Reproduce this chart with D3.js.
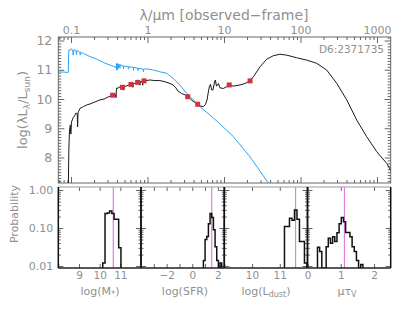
<!DOCTYPE html>
<html><head><meta charset="utf-8">
<script src="https://cdn.jsdelivr.net/npm/d3@7"></script>
<style>
body{margin:0;background:#fff}
text{font-family:"DejaVu Sans",sans-serif;fill:#909090}
</style>
</head><body>
<svg id="c" width="415" height="312"></svg>
<script>
// ---------- DATA ----------
// attenuated model SED (black): wavelength (µm, observed) and log(λLλ/Lsun)
const waveBlack = [0.0922,0.0936,0.0956,0.098,0.0995,0.1015,0.106,0.111,0.116,0.1205,0.122,0.1235,0.125,0.131,0.145,0.162,0.177,0.206,0.239,0.271,0.305,0.351,0.381,0.388,0.392,0.396,0.41,0.424,0.471,0.478,0.481,0.484,0.52,0.608,0.64,0.644,0.648,0.744,0.79,0.795,0.8,0.86,0.865,0.87,0.90,1.07,1.25,1.45,1.69,1.97,2.16,2.35,2.50,2.78,3.1,3.35,3.82,4.53,4.93,5.36,5.72,6.0,6.24,6.46,6.66,6.91,7.18,7.51,7.70,7.98,8.22,8.47,8.87,9.8,10.8,11.7,13.2,16.2,18.8,21.9,24.2,29.6,36.1,44.1,53.9,66.0,89.2,120.5,163,220,297,402,543,733,991,1340,1600];
const logLBlack = [6.9,8.26,8.94,9.11,8.8,9.21,9.35,9.42,9.52,9.5,9.05,9.52,9.56,9.68,9.74,9.80,9.83,9.90,9.97,10.0,10.07,10.13,10.15,10.05,10.3,10.38,10.36,10.41,10.41,10.42,10.3,10.42,10.44,10.50,10.51,10.4,10.52,10.57,10.58,10.47,10.59,10.6,10.47,10.61,10.62,10.65,10.63,10.63,10.59,10.53,10.48,10.38,10.27,10.19,10.14,10.08,9.95,9.82,9.76,9.74,9.81,9.97,10.24,10.44,10.50,10.31,10.31,10.58,10.65,10.44,10.48,10.53,10.38,10.36,10.42,10.48,10.44,10.48,10.53,10.62,10.76,11.10,11.36,11.48,11.53,11.50,11.41,11.33,11.22,10.99,10.54,9.97,9.28,8.71,8.20,7.80,7.45];
// unattenuated stellar SED (blue)
const waveBlue = [0.0683,0.08,0.0922,0.0928,0.0936,0.097,0.1,0.102,0.105,0.107,0.109,0.113,0.116,0.118,0.12,0.124,0.13,0.132,0.134,0.145,0.177,0.217,0.264,0.323,0.376,0.387,0.396,0.398,0.40,0.404,0.407,0.41,0.415,0.418,0.434,0.436,0.439,0.482,0.486,0.49,0.56,0.563,0.567,0.653,0.656,0.66,0.75,0.755,0.76,0.88,0.885,0.89,0.98,1.19,1.45,1.78,2.16,2.64,3.27,3.96,4.85,8.03,13.2,21.9,37.9,46.5];
const logLBlue = [10.93,10.92,10.91,11.3,11.68,11.66,11.72,11.70,11.68,11.50,11.68,11.68,11.66,11.52,11.65,11.65,11.60,11.5,11.6,11.56,11.45,11.36,11.25,11.16,11.10,11.06,11.22,10.98,11.2,11.0,11.2,11.20,11.05,11.19,11.17,11.05,11.17,11.13,11.03,11.13,11.10,11.02,11.10,11.08,10.98,11.08,11.05,10.97,11.05,11.02,10.93,11.02,11.03,10.99,10.93,10.88,10.71,10.48,10.19,9.97,9.74,9.25,8.72,8.02,7.13,6.82];
// observed photometry (red squares)
const photWave = [0.351,0.471,0.608,0.744,0.90,3.35,4.53,11.7,21.9];
const photLogL = [10.13,10.40,10.50,10.57,10.62,10.08,9.82,10.48,10.62];
const objectId = "D6:2371735";
const topTickValues = [0.1,1,10,100,1000];
const topTickLabels = ["0.1","1","10","100","1000"];
const yTickValues = [8,9,10,11,12];

// likelihood distributions
const massStart = 10.15, massWidth = 0.11;
const massProb = [0.012,0.24,0.25,0.28,0.24,0.17,0.17,0.03];
const massBest = 10.66;
const sfrStart = 0.87, sfrWidth = 0.13;
const sfrProb = [0.014,0.05,0.06,0.13,0.24,0.19,0.09,0.032,0.014,0.0,0.012];
const sfrBest = 1.52;
const ldStart = 11.17, ldWidth = 0.09;
const ldProb = [0.11,0.11,0.18,0.16,0.30,0.17,0.044,0.044,0.012];
const ldBest = 11.57;
const tauStart = 0.30, tauWidth = 0.065;
const tauProb = [0.031,0.024,0,0,0.032,0.054,0.04,0.059,0.044,0.075,0.13,0.19,0.147,0.076,0.076,0.059,0.032,0.024,0.014,0,0.011];
const tauBest = 1.11;
const probTickValues = [1,0.1,0.01];
const probTickLabels = ["1.00","0.10","0.01"];

// ---------- CHART ----------
const svg = d3.select("#c");
const L = 58.3, R = 390.7, T = 37, B = 183;
const x = d3.scaleLog().domain([0.0682,1510]).range([L,R]);
const y = d3.scaleLinear().domain([7.128,12.12]).range([B,T]);
const axisCol = "#666";

svg.append("defs").append("clipPath").attr("id","mainclip")
  .append("rect").attr("x",L).attr("y",T).attr("width",R-L).attr("height",B-T);

const minorX = [];
for (let n=-2;n<=3;n++) for (let k=2;k<=9;k++){const v=k*Math.pow(10,n); if(v>0.0682&&v<1510) minorX.push(v);}
const minorY = d3.range(71,122).map(d=>d/10).filter(v=>v>7.13&&v<12.12&&Math.abs(v-Math.round(v))>1e-6);

function styleAxis(g){g.select(".domain").remove(); g.selectAll("line").attr("stroke",axisCol);
  g.selectAll("text").attr("fill","#909090").style("font-family","DejaVu Sans").style("font-size","11px");}

svg.append("g").attr("transform",`translate(0,${B})`).call(d3.axisBottom(x).tickValues(topTickValues.filter(v=>v<1510)).tickSize(-6).tickFormat("")).call(styleAxis);
svg.append("g").attr("transform",`translate(0,${B})`).call(d3.axisBottom(x).tickValues(minorX).tickSize(-3).tickFormat("")).call(styleAxis);
svg.append("g").attr("transform",`translate(0,${T})`).call(d3.axisTop(x).tickValues(topTickValues).tickSize(-6).tickPadding(3).tickFormat((d,i)=>topTickLabels[i])).call(styleAxis);
svg.append("g").attr("transform",`translate(0,${T})`).call(d3.axisTop(x).tickValues(minorX).tickSize(-3).tickFormat("")).call(styleAxis);
svg.append("g").attr("transform",`translate(${L},0)`).call(d3.axisLeft(y).tickValues(yTickValues).tickSize(-6).tickPadding(6).tickFormat(d3.format("d"))).call(styleAxis)
  .selectAll("text").style("font-size","12.5px");
svg.append("g").attr("transform",`translate(${L},0)`).call(d3.axisLeft(y).tickValues(minorY).tickSize(-3).tickFormat("")).call(styleAxis);
svg.append("g").attr("transform",`translate(${R},0)`).call(d3.axisRight(y).tickValues(yTickValues).tickSize(-6).tickFormat("")).call(styleAxis);
svg.append("g").attr("transform",`translate(${R},0)`).call(d3.axisRight(y).tickValues(minorY).tickSize(-3).tickFormat("")).call(styleAxis);
svg.append("rect").attr("x",L).attr("y",T).attr("width",R-L).attr("height",B-T).attr("fill","none").attr("stroke",axisCol).attr("stroke-width",1);

const line = d3.line().x(d=>x(d[0])).y(d=>y(d[1]));
const curves = svg.append("g").attr("clip-path","url(#mainclip)");
curves.append("path").attr("d",line(waveBlue.map((w,i)=>[w,logLBlue[i]]))).attr("fill","none").attr("stroke","#2ea3f2").attr("stroke-width",1);
curves.append("path").attr("d",line(waveBlack.map((w,i)=>[w,logLBlack[i]]))).attr("fill","none").attr("stroke","#1a1a1a").attr("stroke-width",1);
curves.selectAll("rect.pt").data(photWave.map((w,i)=>[w,photLogL[i]])).enter().append("rect")
  .attr("x",d=>x(d[0])-2.5).attr("y",d=>y(d[1])-2.5).attr("width",5).attr("height",5).attr("fill","#d0323f");

svg.append("text").attr("x",384).attr("y",53).attr("text-anchor","end").style("font-size","10.5px").attr("fill","#777").text(objectId);

svg.append("text").attr("x",224).attr("y",20).attr("text-anchor","middle").style("font-size","14px").text("λ/μm [observed−frame]");
const yl = svg.append("text").attr("transform","translate(27,110) rotate(-90)").attr("text-anchor","middle").style("font-size","13px");
yl.append("tspan").text("log(λL");
yl.append("tspan").attr("dy",3).style("font-size","9px").text("λ");
yl.append("tspan").attr("dy",-3).text("/L");
yl.append("tspan").attr("dy",3).style("font-size","9px").text("sun");
yl.append("tspan").attr("dy",-3).text(")");

// ---------- lower panels ----------
const PT = 187, PB = 268;
const yp = d3.scaleLog().domain([0.00886,1.2]).range([PB,PT]);
const minorP = [];
for (let n=-2;n<=-1;n++) for (let k=2;k<=9;k++) minorP.push(k*Math.pow(10,n));

const panels = [
  {x0:58.3,x1:141,dom:[8,12],ticks:[8,9,10,11,12],labels:{9:"9",10:"10",11:"11"},start:massStart,width:massWidth,prob:massProb,best:massBest,title:[["log(M",0],["*",1],[")",0]],tx:100},
  {x0:141,x1:224.3,dom:[-4,2.5],ticks:[-4,-3,-2,-1,0,1,2],labels:{"-2":"−2","0":"0","2":"2"},start:sfrStart,width:sfrWidth,prob:sfrProb,best:sfrBest,title:[["log(SFR)",0]],tx:185},
  {x0:224.3,x1:307.5,dom:[9,12],ticks:[9,10,11,12],labels:{10:"10",11:"11"},start:ldStart,width:ldWidth,prob:ldProb,best:ldBest,title:[["log(L",0],["dust",1],[")",0]],tx:266},
  {x0:307.5,x1:390.7,dom:[0,2.5],ticks:[0,1,2],labels:{0:"0",1:"1",2:"2"},start:tauStart,width:tauWidth,prob:tauProb,best:tauBest,title:[["μτ",0],["V",1]],tx:347}
];

panels.forEach((p,pi)=>{
  const xs = d3.scaleLinear().domain(p.dom).range([p.x0,p.x1]);
  const id = "pc"+pi;
  svg.select("defs").append("clipPath").attr("id",id).append("rect").attr("x",p.x0).attr("y",PT).attr("width",p.x1-p.x0).attr("height",PB-PT);
  const g = svg.append("g");
  g.append("g").attr("transform",`translate(0,${PB})`).call(d3.axisBottom(xs).tickValues(p.ticks).tickSize(-4).tickPadding(4)
      .tickFormat(d=>p.labels[d]!==undefined?p.labels[d]:"")).call(styleAxis)
      .selectAll("text").style("font-size","10.5px");
  g.append("g").attr("transform",`translate(0,${PT})`).call(d3.axisTop(xs).tickValues(p.ticks).tickSize(-4).tickFormat("")).call(styleAxis);
  g.append("g").attr("transform",`translate(${p.x0},0)`).call(d3.axisLeft(yp).tickValues(probTickValues).tickSize(-5).tickPadding(5)
      .tickFormat((d,i)=>pi===0?probTickLabels[i]:"")).call(styleAxis);
  g.append("g").attr("transform",`translate(${p.x0},0)`).call(d3.axisLeft(yp).tickValues(minorP).tickSize(-2.5).tickFormat("")).call(styleAxis);
  g.append("g").attr("transform",`translate(${p.x1},0)`).call(d3.axisRight(yp).tickValues(probTickValues).tickSize(-5).tickFormat("")).call(styleAxis);
  g.append("g").attr("transform",`translate(${p.x1},0)`).call(d3.axisRight(yp).tickValues(minorP).tickSize(-2.5).tickFormat("")).call(styleAxis);
  g.append("line").attr("x1",xs(p.best)).attr("x2",xs(p.best)).attr("y1",PT).attr("y2",PB).attr("stroke","#e07fdc").attr("stroke-width",1.2);
  const pts = [[p.start,null]];
  p.prob.forEach((v,i)=>{pts.push([p.start+i*p.width,v]);pts.push([p.start+(i+1)*p.width,v]);});
  pts.push([p.start+p.prob.length*p.width,null]);
  const hl = d3.line().x(d=>xs(d[0])).y(d=>(d[1]===null||d[1]<=yp.domain()[0])?PB:yp(d[1]));
  g.append("path").attr("clip-path",`url(#${id})`).attr("d",hl(pts)).attr("fill","none").attr("stroke","#111").attr("stroke-width",1.5);
  g.append("line").attr("x1",p.x0).attr("x2",p.x1).attr("y1",PT).attr("y2",PT).attr("stroke","#999").attr("stroke-width",1);
  g.append("line").attr("x1",p.x0).attr("x2",p.x1).attr("y1",PB).attr("y2",PB).attr("stroke","#222").attr("stroke-width",1.3);
  g.append("line").attr("x1",p.x0).attr("x2",p.x0).attr("y1",PT).attr("y2",PB).attr("stroke","#111").attr("stroke-width",1.5);
  g.append("line").attr("x1",p.x1).attr("x2",p.x1).attr("y1",PT).attr("y2",PB).attr("stroke","#111").attr("stroke-width",1.5);
  const t = svg.append("text").attr("x",p.tx).attr("y",297).attr("text-anchor","middle").style("font-size","11px");
  p.title.forEach(s=>{ t.append("tspan").attr("dy",s[1]?2.5:(t.selectAll("tspan").size()>0?-2.5:0)).style("font-size",s[1]?"8px":"11px").text(s[0]); });
});

svg.append("text").attr("transform","translate(18,214) rotate(-90)").attr("text-anchor","middle").style("font-size","11px").text("Probability");
</script>
</body></html>
